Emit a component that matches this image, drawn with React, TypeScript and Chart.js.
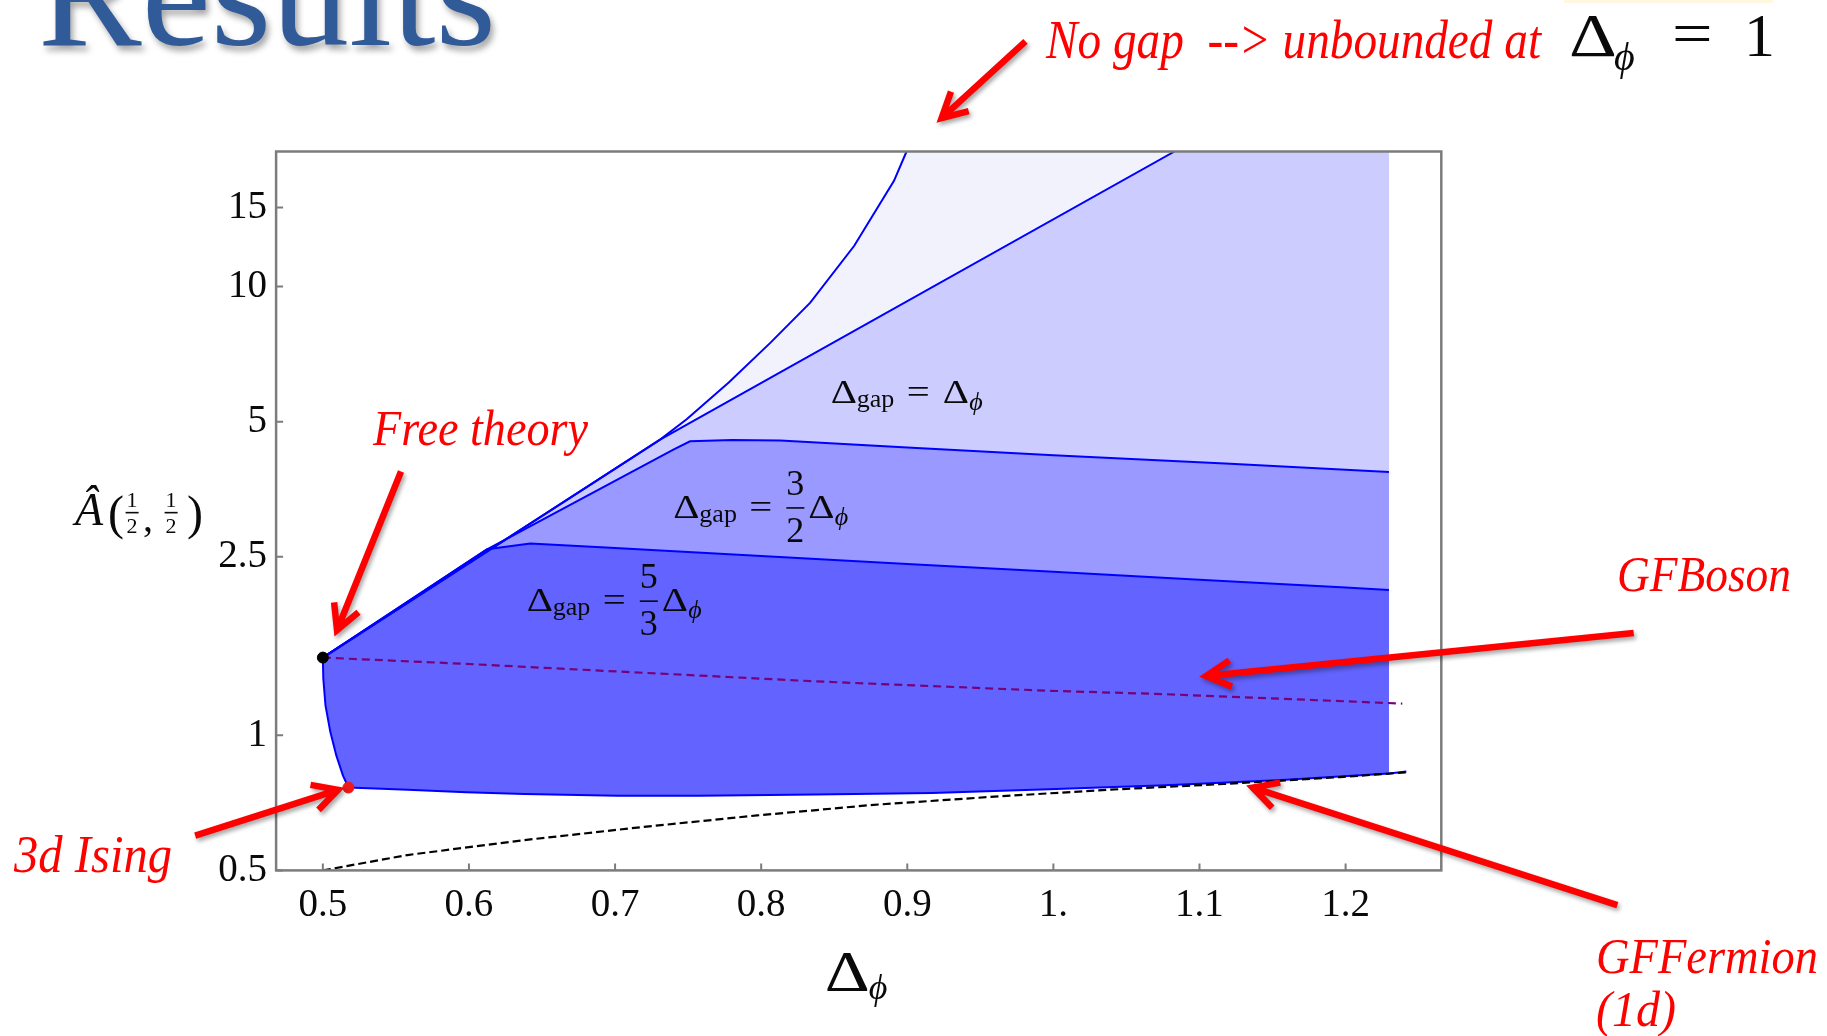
import React, { useEffect, useRef } from 'react';
import { Chart, registerables } from 'chart.js';

Chart.register(...registerables);

// Bounds on Â(1/2,1/2) as a function of Δφ, for several assumed gaps.

// Lower bound: left edge (free theory down to 3d Ising), then the bottom edge
const LOWER_DPHI = [0.5, 0.5003, 0.5018, 0.5051, 0.5092, 0.5137, 0.5175, 0.5582, 0.5981, 0.638, 0.7018, 0.7576, 0.8373, 0.9171, 0.9968, 1.0766, 1.1563, 1.2297, 1.2416];
const LOWER_A = [1.49, 1.338, 1.166, 1.018, 0.902, 0.814, 0.765, 0.756, 0.747, 0.74, 0.733, 0.733, 0.738, 0.744, 0.758, 0.774, 0.795, 0.822, 0.831];

// Upper bound, Δgap = 5/3 Δφ
const GAP53_DPHI = [0.5, 0.6124, 0.642, 0.7, 0.8, 0.9, 1.0, 1.1, 1.2, 1.2297];
const GAP53_A = [1.49, 2.597, 2.676, 2.614, 2.51, 2.41, 2.314, 2.222, 2.134, 2.108];

// Upper bound, Δgap = 3/2 Δφ
const GAP32_DPHI = [0.5, 0.6124, 0.7399, 0.7513, 0.78, 0.8131, 0.9, 1.0, 1.121, 1.2297];
const GAP32_A = [1.49, 2.597, 4.333, 4.52, 4.55, 4.54, 4.38, 4.21, 4.03, 3.86];

// Upper bound, Δgap = Δφ
const GAP1_DPHI = [0.5, 0.7308, 1.0829];
const GAP1_A = [1.49, 4.56, 20];

// Upper bound without a gap
const NOGAP_DPHI = [0.5, 0.7308, 0.749, 0.7778, 0.8064, 0.8336, 0.8637, 0.8909, 0.8995];
const NOGAP_A = [1.49, 4.56, 5.06, 6.11, 7.5, 9.21, 12.33, 17.21, 20];

// Generalized free boson
const GFB_DPHI = [0.5, 0.5978, 0.6776, 0.7574, 0.8372, 0.9171, 0.9968, 1.0767, 1.1565, 1.2388];
const GFB_A = [1.49, 1.443, 1.4, 1.359, 1.319, 1.287, 1.257, 1.235, 1.206, 1.177];

// Generalized free fermion (1d)
const GFF_DPHI = [0.5, 0.5579, 0.6377, 0.7175, 0.7973, 0.8771, 0.9569, 1.0367, 1.1166, 1.1964, 1.2418];
const GFF_A = [0.5, 0.541, 0.584, 0.624, 0.663, 0.7, 0.729, 0.756, 0.779, 0.807, 0.827];

// Special points
const FREE_THEORY = { x: 0.5, y: 1.49 };
const ISING_3D = { x: 0.5175, y: 0.765 };

// Last Δφ of the scan: the shaded regions stop here
const SCAN_END = 1.2297;

// Axes
const X_MIN = 0.468;
const X_MAX = 1.2655;
const Y_MIN = 0.5;
const Y_MAX = 20;
const X_TICKS = [0.5, 0.6, 0.7, 0.8, 0.9, 1.0, 1.1, 1.2];
const X_TICK_LABELS = ['0.5', '0.6', '0.7', '0.8', '0.9', '1.', '1.1', '1.2'];
const Y_TICKS = [0.5, 1, 2.5, 5, 10, 15];
const Y_TICK_LABELS = ['0.5', '1', '2.5', '5', '10', '15'];

// Page / plot geometry
const W = 1827;
const H = 1036;
const PLOT_LEFT = 276.1;
const PLOT_RIGHT = 1441.3;
const PLOT_TOP = 151.5;
const PLOT_BOTTOM = 870.4;

// Styles
const SERIF = '"Liberation Serif", "DejaVu Serif", serif';
const PHI = 'ϕ';
const INK = '#0a0a0a';
const RED = '#ff0000';
const FRAME = '#7c7c7c';
const LINE_BLUE = '#0000ff';
const FILL_NOGAP = 'rgb(242,242,252)';
const FILL_GAP1 = 'rgb(204,204,255)';
const FILL_GAP32 = 'rgb(153,153,255)';
const FILL_GAP53 = 'rgb(99,99,255)';

// Labels inside the plot: anchor (Δφ, Â) at the first Δ's baseline
const GAP_LABELS = [
  { at: [0.8476, 5.497], frac: null as null | [string, string] },
  { at: [0.7399, 3.051], frac: ['3', '2'] as [string, string] },
  { at: [0.6396, 1.891], frac: ['5', '3'] as [string, string] },
];

// Annotation arrows, tail -> tip, in (Δφ, Â)
const ARROWS: [number, number, number, number][] = [
  [0.9809, 35.2, 0.9235, 23.74],
  [0.5535, 3.87, 0.5097, 1.715],
  [0.4126, 0.5976, 0.5104, 0.7561],
  [1.3972, 1.69, 1.1045, 1.356],
  [1.386, 0.4184, 1.1364, 0.7647],
];

// Annotation texts (page pixels: left, baseline, width, size)
const NOTES = [
  { text: 'No gap  --> unbounded at', x: 1046, y: 58, w: 495, size: 54 },
  { text: 'Free theory', x: 373, y: 445, w: 215, size: 50 },
  { text: '3d Ising', x: 14, y: 872, w: 158, size: 52 },
  { text: 'GFBoson', x: 1617, y: 591, w: 174, size: 51 },
  { text: 'GFFermion', x: 1596, y: 973, w: 222, size: 51 },
  { text: '(1d)', x: 1596, y: 1026, w: 80, size: 51 },
];

const TITLE = { text: 'Results', x: 38, y: 45, w: 458, size: 150, color: 'rgb(48,90,152)' };

function pts(xs: number[], ys: number[]) {
  return xs.map((x, i) => ({ x, y: ys[i] }));
}

// Closed outline of a region: its upper bound, the scan edge, then the lower bound back
function regionShape(upperX: number[], upperY: number[]) {
  const shape = pts(upperX, upperY);
  const last = shape[shape.length - 1];
  if (last.x < SCAN_END) shape.push({ x: SCAN_END, y: last.y });
  const lower = pts(LOWER_DPHI, LOWER_A).filter((p) => p.x <= SCAN_END).reverse();
  return shape.concat(lower);
}

function glyph(ctx: CanvasRenderingContext2D, text: string, x: number, y: number, size: number, o: any = {}) {
  ctx.save();
  ctx.font = `${o.italic ? 'italic ' : ''}${size}px ${SERIF}`;
  ctx.fillStyle = o.color || INK;
  ctx.textBaseline = 'alphabetic';
  ctx.textAlign = o.align || 'left';
  if (o.shadow) {
    ctx.shadowColor = o.shadow;
    ctx.shadowBlur = 6;
    ctx.shadowOffsetX = 3;
    ctx.shadowOffsetY = 5;
  }
  ctx.translate(x, y);
  ctx.scale(o.sx || 1, 1);
  ctx.fillText(text, 0, 0);
  ctx.restore();
}

function fitText(ctx: CanvasRenderingContext2D, text: string, x: number, y: number, w: number, size: number, o: any = {}) {
  ctx.save();
  ctx.font = `${o.italic ? 'italic ' : ''}${size}px ${SERIF}`;
  const mw = ctx.measureText(text).width;
  ctx.restore();
  glyph(ctx, text, x, y, size, { ...o, sx: w / mw });
}

function frac(ctx: CanvasRenderingContext2D, num: string, den: string, cx: number, base: number, size: number, barW: number, numDy: number, denDy: number, barDy: number) {
  glyph(ctx, num, cx, base + numDy, size, { align: 'center' });
  glyph(ctx, den, cx, base + denDy, size, { align: 'center' });
  ctx.save();
  ctx.fillStyle = INK;
  ctx.fillRect(cx - barW / 2, base + barDy - 0.8, barW, 1.6);
  ctx.restore();
}

function gapLabel(ctx: CanvasRenderingContext2D, x: number, y: number, f: null | [string, string]) {
  glyph(ctx, 'Δ', x, y, 34, { sx: 1.2 });
  glyph(ctx, 'gap', x + 26, y + 4, 26);
  glyph(ctx, '=', x + 76, y, 34, { sx: 1.2 });
  let dx = 112;
  if (f) {
    frac(ctx, f[0], f[1], x + 122, y, 36, 18, -23, 24, -10);
    dx = 135;
  }
  glyph(ctx, 'Δ', x + dx, y, 34, { sx: 1.2 });
  glyph(ctx, PHI, x + dx + 26.5, y + 7, 26, { italic: true });
}

function arrow(ctx: CanvasRenderingContext2D, x1: number, y1: number, x2: number, y2: number) {
  const ang = Math.atan2(y2 - y1, x2 - x1);
  const len = 28;
  const spread = (28 * Math.PI) / 180;
  ctx.save();
  ctx.strokeStyle = RED;
  ctx.lineWidth = 6.5;
  ctx.lineCap = 'butt';
  ctx.lineJoin = 'miter';
  ctx.shadowColor = 'rgba(0,0,0,0.35)';
  ctx.shadowBlur = 4;
  ctx.shadowOffsetX = 2;
  ctx.shadowOffsetY = 3;
  ctx.beginPath();
  ctx.moveTo(x1, y1);
  ctx.lineTo(x2, y2);
  ctx.moveTo(x2 - len * Math.cos(ang - spread), y2 - len * Math.sin(ang - spread));
  ctx.lineTo(x2, y2);
  ctx.lineTo(x2 - len * Math.cos(ang + spread), y2 - len * Math.sin(ang + spread));
  ctx.stroke();
  ctx.restore();
}

const decor = {
  id: 'decor',
  afterDatasetsDraw(chart: any) {
    const { ctx, chartArea: a, scales } = chart;
    const xs = scales.x;
    const ys = scales.y;
    ctx.save();
    ctx.strokeStyle = FRAME;
    ctx.lineWidth = 2.5;
    ctx.strokeRect(a.left, a.top, a.right - a.left, a.bottom - a.top);
    ctx.lineWidth = 2;
    ctx.beginPath();
    for (const v of X_TICKS) {
      const px = xs.getPixelForValue(v);
      ctx.moveTo(px, a.bottom);
      ctx.lineTo(px, a.bottom - 7);
    }
    for (const v of Y_TICKS) {
      const py = ys.getPixelForValue(v);
      ctx.moveTo(a.left, py);
      ctx.lineTo(a.left + 7, py);
    }
    ctx.stroke();
    ctx.restore();

    for (const l of GAP_LABELS) {
      gapLabel(ctx, xs.getPixelForValue(l.at[0]), ys.getPixelForValue(l.at[1]), l.frac);
    }
  },
  afterDraw(chart: any) {
    const { ctx, chartArea: a, scales } = chart;
    const xs = scales.x;
    const ys = scales.y;

    // y-axis title Â(1/2, 1/2)
    const cy = (a.top + a.bottom) / 2;
    const x0 = a.left;
    glyph(ctx, 'Â', x0 - 201, cy + 14, 46, { italic: true });
    glyph(ctx, '(', x0 - 168, cy + 18.5, 48);
    frac(ctx, '1', '2', x0 - 144, cy, 22, 13, -4.3, 22, 1.7);
    glyph(ctx, ',', x0 - 133, cy + 20, 40);
    frac(ctx, '1', '2', x0 - 105, cy, 22, 13, -4.3, 22, 1.7);
    glyph(ctx, ')', x0 - 89, cy + 18.5, 48);

    // x-axis title Δφ
    const cx = (a.left + a.right) / 2;
    glyph(ctx, 'Δ', cx - 34, a.bottom + 121, 56, { sx: 1.25 });
    glyph(ctx, PHI, cx + 10, a.bottom + 129, 36, { italic: true });

    // Slide title
    fitText(ctx, TITLE.text, TITLE.x, TITLE.y, TITLE.w, TITLE.size, { color: TITLE.color, shadow: 'rgba(0,0,0,0.35)' });

    // Highlight strip and Δφ = 1
    ctx.save();
    ctx.fillStyle = 'rgb(255,247,224)';
    ctx.fillRect(1564, 0, 209, 3);
    ctx.restore();
    glyph(ctx, 'Δ', 1569, 56, 62, { sx: 1.2 });
    glyph(ctx, PHI, 1614, 70, 40, { italic: true });
    glyph(ctx, '=', 1672, 53, 60, { sx: 1.2 });
    glyph(ctx, '1', 1744, 56, 62);

    // Red notes and arrows
    for (const n of NOTES) {
      fitText(ctx, n.text, n.x, n.y, n.w, n.size, { italic: true, color: RED });
    }
    for (const [x1, y1, x2, y2] of ARROWS) {
      arrow(ctx, xs.getPixelForValue(x1), ys.getPixelForValue(y1), xs.getPixelForValue(x2), ys.getPixelForValue(y2));
    }
  },
};

function fillSet(label: string, data: any[], color: string, order: number) {
  return {
    label,
    data,
    backgroundColor: color,
    borderColor: 'rgba(0,0,0,0)',
    borderWidth: 0,
    pointRadius: 0,
    fill: 'shape',
    tension: 0,
    order,
  };
}

function lineSet(label: string, data: any[], color: string, order: number, dash: number[] = [], width = 2) {
  return {
    label,
    data,
    borderColor: color,
    borderWidth: width,
    borderDash: dash,
    pointRadius: 0,
    fill: false,
    tension: 0,
    order,
  };
}

function dotSet(label: string, p: { x: number; y: number }, color: string) {
  return {
    label,
    data: [p],
    showLine: false,
    pointRadius: 5.5,
    pointBackgroundColor: color,
    pointBorderColor: color,
    pointBorderWidth: 1,
    order: 0,
  };
}

export default function App() {
  const ref = useRef<HTMLCanvasElement>(null);

  useEffect(() => {
    const prev = document.body.style.overflow;
    document.body.style.overflow = 'hidden';
    const tickFont = { family: SERIF, size: 39, lineHeight: 1 };
    const chart = new Chart(ref.current as HTMLCanvasElement, {
      type: 'line',
      data: {
        datasets: [
          fillSet('No gap', regionShape(NOGAP_DPHI, NOGAP_A), FILL_NOGAP, 14),
          fillSet('Δgap = Δφ', regionShape(GAP1_DPHI, GAP1_A), FILL_GAP1, 13),
          fillSet('Δgap = 3/2 Δφ', regionShape(GAP32_DPHI, GAP32_A), FILL_GAP32, 12),
          fillSet('Δgap = 5/3 Δφ', regionShape(GAP53_DPHI, GAP53_A), FILL_GAP53, 11),
          lineSet('No gap bound', pts(NOGAP_DPHI, NOGAP_A), LINE_BLUE, 5),
          lineSet('Δgap = Δφ bound', pts(GAP1_DPHI, GAP1_A), LINE_BLUE, 5),
          lineSet('Δgap = 3/2 Δφ bound', pts(GAP32_DPHI, GAP32_A), LINE_BLUE, 5),
          lineSet('Δgap = 5/3 Δφ bound', pts(GAP53_DPHI, GAP53_A), LINE_BLUE, 5),
          lineSet('Lower bound', pts(LOWER_DPHI, LOWER_A), LINE_BLUE, 5),
          lineSet('GFBoson', pts(GFB_DPHI, GFB_A), 'rgb(120,0,120)', 3, [8, 5], 2.2),
          lineSet('GFFermion (1d)', pts(GFF_DPHI, GFF_A), '#000000', 3, [8, 4], 2.2),
          dotSet('Free theory', FREE_THEORY, '#000000'),
          dotSet('3d Ising', ISING_3D, '#f01818'),
        ] as any,
      },
      options: {
        responsive: false,
        animation: false,
        devicePixelRatio: 1,
        events: [],
        layout: { padding: { top: PLOT_TOP, right: W - PLOT_RIGHT, left: 0, bottom: 0 } },
        plugins: { legend: { display: false }, tooltip: { enabled: false }, title: { display: false } },
        scales: {
          x: {
            type: 'linear',
            min: X_MIN,
            max: X_MAX,
            grid: { display: false, drawTicks: false, tickLength: 0 },
            border: { display: false },
            ticks: {
              autoSkip: false,
              maxRotation: 0,
              padding: 16,
              color: INK,
              font: tickFont,
              callback: (_v: any, i: number) => X_TICK_LABELS[i],
            },
            afterBuildTicks: (s: any) => {
              s.ticks = X_TICKS.map((value) => ({ value }));
            },
            afterFit: (s: any) => {
              s.height = H - PLOT_BOTTOM;
            },
          },
          y: {
            type: 'logarithmic',
            min: Y_MIN,
            max: Y_MAX,
            grid: { display: false, drawTicks: false, tickLength: 0 },
            border: { display: false },
            ticks: {
              autoSkip: false,
              padding: 9,
              color: INK,
              font: tickFont,
              callback: (_v: any, i: number) => Y_TICK_LABELS[i],
            },
            afterBuildTicks: (s: any) => {
              s.ticks = Y_TICKS.map((value) => ({ value }));
            },
            afterFit: (s: any) => {
              s.width = PLOT_LEFT;
            },
          },
        },
      } as any,
      plugins: [decor],
    });
    return () => {
      chart.destroy();
      document.body.style.overflow = prev;
    };
  }, []);

  return (
    <div style={{ position: 'absolute', left: 0, top: 0, width: W, height: H, background: '#ffffff' }}>
      <canvas ref={ref} width={W} height={H} style={{ display: 'block', width: W, height: H }} />
    </div>
  );
}
